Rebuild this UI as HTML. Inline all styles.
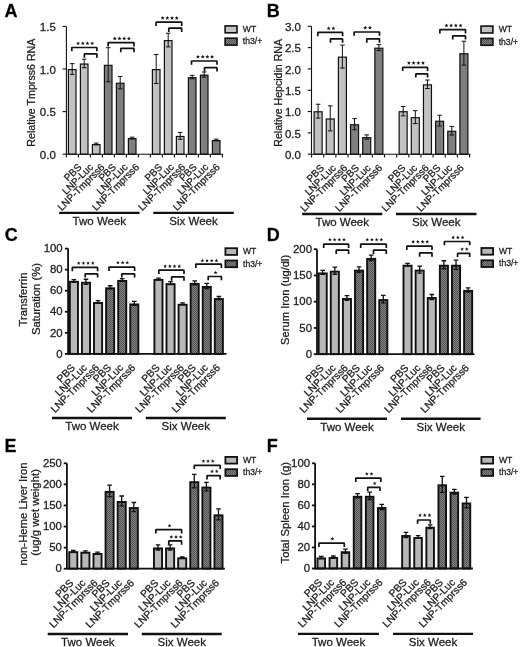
<!DOCTYPE html>
<html><head><meta charset="utf-8"><style>
html,body{margin:0;padding:0;background:#fff;}
svg{display:block;transform:translateZ(0);will-change:transform;}
text{font-family:"Liberation Sans",sans-serif;stroke:#1e1e1e;stroke-width:0.28px;}
</style></head><body>
<svg width="520" height="647" viewBox="0 0 520 647">
<defs>
<pattern id="chk" x="0" y="0" width="2" height="2" patternUnits="userSpaceOnUse">
<rect width="2" height="2" fill="#828282"/><rect width="1" height="1" fill="#535353"/><rect x="1" y="1" width="1" height="1" fill="#535353"/>
</pattern>
</defs>
<rect width="520" height="647" fill="#fff"/>
<text x="4.6" y="17.4" font-size="18" font-weight="bold" fill="#000">A</text>
<line x1="62.60000000000001" y1="154.20" x2="66.4" y2="154.20" stroke="#111" stroke-width="1.1"/>
<text x="55.80" y="158.90" font-size="11.5" text-anchor="end" fill="#1e1e1e">0.0</text>
<line x1="62.60000000000001" y1="111.60" x2="66.4" y2="111.60" stroke="#111" stroke-width="1.1"/>
<text x="55.80" y="116.30" font-size="11.5" text-anchor="end" fill="#1e1e1e">0.5</text>
<line x1="62.60000000000001" y1="69.00" x2="66.4" y2="69.00" stroke="#111" stroke-width="1.1"/>
<text x="55.80" y="73.70" font-size="11.5" text-anchor="end" fill="#1e1e1e">1.0</text>
<line x1="62.60000000000001" y1="26.40" x2="66.4" y2="26.40" stroke="#111" stroke-width="1.1"/>
<text x="55.80" y="31.10" font-size="11.5" text-anchor="end" fill="#1e1e1e">1.5</text>
<text transform="translate(35.0,92.65) rotate(-90)" font-size="10.65" text-anchor="middle" fill="#1e1e1e">Relative Tmprss6 RNA</text>
<rect x="68.40" y="69.60" width="7.60" height="84.60" fill="#c2c2c2" stroke="#111" stroke-width="1.2"/>
<rect x="80.40" y="64.06" width="7.60" height="90.14" fill="#c2c2c2" stroke="#111" stroke-width="1.2"/>
<rect x="92.40" y="144.58" width="7.60" height="9.62" fill="#c2c2c2" stroke="#111" stroke-width="1.2"/>
<rect x="104.40" y="65.34" width="7.60" height="88.86" fill="#7f7f7f" stroke="#111" stroke-width="1.2"/>
<rect x="116.40" y="83.23" width="7.60" height="70.97" fill="#7f7f7f" stroke="#111" stroke-width="1.2"/>
<rect x="128.40" y="138.61" width="7.60" height="15.59" fill="#7f7f7f" stroke="#111" stroke-width="1.2"/>
<rect x="152.40" y="69.60" width="7.60" height="84.60" fill="#c2c2c2" stroke="#111" stroke-width="1.2"/>
<rect x="164.40" y="40.63" width="7.60" height="113.57" fill="#c2c2c2" stroke="#111" stroke-width="1.2"/>
<rect x="176.40" y="136.48" width="7.60" height="17.72" fill="#c2c2c2" stroke="#111" stroke-width="1.2"/>
<rect x="188.40" y="77.69" width="7.60" height="76.51" fill="#7f7f7f" stroke="#111" stroke-width="1.2"/>
<rect x="200.40" y="75.14" width="7.60" height="79.06" fill="#7f7f7f" stroke="#111" stroke-width="1.2"/>
<rect x="212.40" y="140.57" width="7.60" height="13.63" fill="#7f7f7f" stroke="#111" stroke-width="1.2"/>
<path d="M72.20,63.63V74.37M69.90,63.63H74.50M69.90,74.37H74.50" stroke="#111" stroke-width="1.0" fill="none"/>
<path d="M84.20,59.20V67.72M81.90,59.20H86.50M81.90,67.72H86.50" stroke="#111" stroke-width="1.0" fill="none"/>
<path d="M96.20,143.12V144.83M93.90,143.12H98.50M93.90,144.83H98.50" stroke="#111" stroke-width="1.0" fill="none"/>
<path d="M108.20,47.70V81.78M105.90,47.70H110.50M105.90,81.78H110.50" stroke="#111" stroke-width="1.0" fill="none"/>
<path d="M120.20,76.50V88.77M117.90,76.50H122.50M117.90,88.77H122.50" stroke="#111" stroke-width="1.0" fill="none"/>
<path d="M132.20,137.16V138.86M129.90,137.16H134.50M129.90,138.86H134.50" stroke="#111" stroke-width="1.0" fill="none"/>
<path d="M156.20,54.52V83.48M153.90,54.52H158.50M153.90,83.48H158.50" stroke="#111" stroke-width="1.0" fill="none"/>
<path d="M168.20,33.22V46.85M165.90,33.22H170.50M165.90,46.85H170.50" stroke="#111" stroke-width="1.0" fill="none"/>
<path d="M180.20,132.47V139.29M177.90,132.47H182.50M177.90,139.29H182.50" stroke="#111" stroke-width="1.0" fill="none"/>
<path d="M192.20,75.39V78.80M189.90,75.39H194.50M189.90,78.80H194.50" stroke="#111" stroke-width="1.0" fill="none"/>
<path d="M204.20,71.98V77.09M201.90,71.98H206.50M201.90,77.09H206.50" stroke="#111" stroke-width="1.0" fill="none"/>
<path d="M216.20,139.12V140.82M213.90,139.12H218.50M213.90,140.82H218.50" stroke="#111" stroke-width="1.0" fill="none"/>
<line x1="66.4" y1="154.2" x2="223" y2="154.2" stroke="#111" stroke-width="1.1"/>
<line x1="66.4" y1="154.75" x2="66.4" y2="26.4" stroke="#111" stroke-width="1.1"/>
<line x1="66.40" y1="154.2" x2="66.40" y2="157.39999999999998" stroke="#111" stroke-width="1.1"/>
<line x1="78.40" y1="154.2" x2="78.40" y2="157.39999999999998" stroke="#111" stroke-width="1.1"/>
<line x1="90.40" y1="154.2" x2="90.40" y2="157.39999999999998" stroke="#111" stroke-width="1.1"/>
<line x1="102.40" y1="154.2" x2="102.40" y2="157.39999999999998" stroke="#111" stroke-width="1.1"/>
<line x1="114.40" y1="154.2" x2="114.40" y2="157.39999999999998" stroke="#111" stroke-width="1.1"/>
<line x1="126.40" y1="154.2" x2="126.40" y2="157.39999999999998" stroke="#111" stroke-width="1.1"/>
<line x1="138.40" y1="154.2" x2="138.40" y2="157.39999999999998" stroke="#111" stroke-width="1.1"/>
<line x1="150.40" y1="154.2" x2="150.40" y2="157.39999999999998" stroke="#111" stroke-width="1.1"/>
<line x1="162.40" y1="154.2" x2="162.40" y2="157.39999999999998" stroke="#111" stroke-width="1.1"/>
<line x1="174.40" y1="154.2" x2="174.40" y2="157.39999999999998" stroke="#111" stroke-width="1.1"/>
<line x1="186.40" y1="154.2" x2="186.40" y2="157.39999999999998" stroke="#111" stroke-width="1.1"/>
<line x1="198.40" y1="154.2" x2="198.40" y2="157.39999999999998" stroke="#111" stroke-width="1.1"/>
<line x1="210.40" y1="154.2" x2="210.40" y2="157.39999999999998" stroke="#111" stroke-width="1.1"/>
<line x1="222.40" y1="154.2" x2="222.40" y2="157.39999999999998" stroke="#111" stroke-width="1.1"/>
<text transform="translate(82.20,167.70) rotate(-45)" font-size="10" text-anchor="end" fill="#1e1e1e">PBS</text>
<text transform="translate(93.73,167.70) rotate(-45)" font-size="10" text-anchor="end" fill="#1e1e1e">LNP-Luc</text>
<text transform="translate(105.26,167.70) rotate(-45)" font-size="10" text-anchor="end" fill="#1e1e1e">LNP-Tmprss6</text>
<text transform="translate(116.79,167.70) rotate(-45)" font-size="10" text-anchor="end" fill="#1e1e1e">PBS</text>
<text transform="translate(128.32,167.70) rotate(-45)" font-size="10" text-anchor="end" fill="#1e1e1e">LNP-Luc</text>
<text transform="translate(139.85,167.70) rotate(-45)" font-size="10" text-anchor="end" fill="#1e1e1e">LNP-Tmprss6</text>
<text transform="translate(162.91,167.70) rotate(-45)" font-size="10" text-anchor="end" fill="#1e1e1e">PBS</text>
<text transform="translate(174.44,167.70) rotate(-45)" font-size="10" text-anchor="end" fill="#1e1e1e">LNP-Luc</text>
<text transform="translate(185.97,167.70) rotate(-45)" font-size="10" text-anchor="end" fill="#1e1e1e">LNP-Tmprss6</text>
<text transform="translate(197.50,167.70) rotate(-45)" font-size="10" text-anchor="end" fill="#1e1e1e">PBS</text>
<text transform="translate(209.03,167.70) rotate(-45)" font-size="10" text-anchor="end" fill="#1e1e1e">LNP-Luc</text>
<text transform="translate(220.56,167.70) rotate(-45)" font-size="10" text-anchor="end" fill="#1e1e1e">LNP-Tmprss6</text>
<path d="M71.80,51.30V48.00Q71.80,47.50 72.30,47.50H96.40Q96.90,47.50 96.90,48.00V51.30" stroke="#111" stroke-width="1.7" fill="none"/>
<polygon points="78.10,41.30 78.66,42.64 80.10,42.75 79.00,43.69 79.33,45.10 78.10,44.34 76.87,45.10 77.20,43.69 76.10,42.75 77.54,42.64" fill="#151515"/>
<polygon points="82.80,41.30 83.36,42.64 84.80,42.75 83.70,43.69 84.03,45.10 82.80,44.34 81.57,45.10 81.90,43.69 80.80,42.75 82.24,42.64" fill="#151515"/>
<polygon points="87.50,41.30 88.06,42.64 89.50,42.75 88.40,43.69 88.73,45.10 87.50,44.34 86.27,45.10 86.60,43.69 85.50,42.75 86.94,42.64" fill="#151515"/>
<polygon points="92.20,41.30 92.76,42.64 94.20,42.75 93.10,43.69 93.43,45.10 92.20,44.34 90.97,45.10 91.30,43.69 90.20,42.75 91.64,42.64" fill="#151515"/>
<path d="M84.40,57.70V54.40Q84.40,53.90 84.90,53.90H96.40Q96.90,53.90 96.90,54.40V57.70" stroke="#111" stroke-width="1.7" fill="none"/>
<path d="M108.10,46.50V43.20Q108.10,42.70 108.60,42.70H133.50Q134.00,42.70 134.00,43.20V46.50" stroke="#111" stroke-width="1.7" fill="none"/>
<polygon points="114.80,36.50 115.36,37.84 116.80,37.95 115.70,38.89 116.03,40.30 114.80,39.55 113.57,40.30 113.90,38.89 112.80,37.95 114.24,37.84" fill="#151515"/>
<polygon points="119.50,36.50 120.06,37.84 121.50,37.95 120.40,38.89 120.73,40.30 119.50,39.55 118.27,40.30 118.60,38.89 117.50,37.95 118.94,37.84" fill="#151515"/>
<polygon points="124.20,36.50 124.76,37.84 126.20,37.95 125.10,38.89 125.43,40.30 124.20,39.55 122.97,40.30 123.30,38.89 122.20,37.95 123.64,37.84" fill="#151515"/>
<polygon points="128.90,36.50 129.46,37.84 130.90,37.95 129.80,38.89 130.13,40.30 128.90,39.55 127.67,40.30 128.00,38.89 126.90,37.95 128.34,37.84" fill="#151515"/>
<path d="M120.80,52.20V48.90Q120.80,48.40 121.30,48.40H133.50Q134.00,48.40 134.00,48.90V52.20" stroke="#111" stroke-width="1.7" fill="none"/>
<path d="M156.10,25.90V22.60Q156.10,22.10 156.60,22.10H181.20Q181.70,22.10 181.70,22.60V25.90" stroke="#111" stroke-width="1.7" fill="none"/>
<polygon points="162.65,15.90 163.21,17.24 164.65,17.35 163.55,18.29 163.88,19.70 162.65,18.95 161.42,19.70 161.75,18.29 160.65,17.35 162.09,17.24" fill="#151515"/>
<polygon points="167.35,15.90 167.91,17.24 169.35,17.35 168.25,18.29 168.58,19.70 167.35,18.95 166.12,19.70 166.45,18.29 165.35,17.35 166.79,17.24" fill="#151515"/>
<polygon points="172.05,15.90 172.61,17.24 174.05,17.35 172.95,18.29 173.28,19.70 172.05,18.95 170.82,19.70 171.15,18.29 170.05,17.35 171.49,17.24" fill="#151515"/>
<polygon points="176.75,15.90 177.31,17.24 178.75,17.35 177.65,18.29 177.98,19.70 176.75,18.95 175.52,19.70 175.85,18.29 174.75,17.35 176.19,17.24" fill="#151515"/>
<path d="M168.80,32.00V28.70Q168.80,28.20 169.30,28.20H181.20Q181.70,28.20 181.70,28.70V32.00" stroke="#111" stroke-width="1.7" fill="none"/>
<path d="M191.50,64.80V61.50Q191.50,61.00 192.00,61.00H216.50Q217.00,61.00 217.00,61.50V64.80" stroke="#111" stroke-width="1.7" fill="none"/>
<polygon points="198.00,54.70 198.56,56.04 200.00,56.15 198.90,57.09 199.23,58.50 198.00,57.74 196.77,58.50 197.10,57.09 196.00,56.15 197.44,56.04" fill="#151515"/>
<polygon points="202.70,54.70 203.26,56.04 204.70,56.15 203.60,57.09 203.93,58.50 202.70,57.74 201.47,58.50 201.80,57.09 200.70,56.15 202.14,56.04" fill="#151515"/>
<polygon points="207.40,54.70 207.96,56.04 209.40,56.15 208.30,57.09 208.63,58.50 207.40,57.74 206.17,58.50 206.50,57.09 205.40,56.15 206.84,56.04" fill="#151515"/>
<polygon points="212.10,54.70 212.66,56.04 214.10,56.15 213.00,57.09 213.33,58.50 212.10,57.74 210.87,58.50 211.20,57.09 210.10,56.15 211.54,56.04" fill="#151515"/>
<path d="M204.50,71.50V68.20Q204.50,67.70 205.00,67.70H216.50Q217.00,67.70 217.00,68.20V71.50" stroke="#111" stroke-width="1.7" fill="none"/>
<line x1="59.2" y1="212.9" x2="139.5" y2="212.9" stroke="#111" stroke-width="2.4"/>
<text x="99.35" y="224.70" font-size="11.5" text-anchor="middle" fill="#1e1e1e">Two Week</text>
<line x1="153.3" y1="212.9" x2="233.8" y2="212.9" stroke="#111" stroke-width="2.4"/>
<text x="193.55" y="224.70" font-size="11.5" text-anchor="middle" fill="#1e1e1e">Six Week</text>
<rect x="225.10000000000002" y="25.900000000000002" width="11.9" height="6.9" fill="#c2c2c2" stroke="#111" stroke-width="1.6"/>
<rect x="225.10000000000002" y="38.2" width="11.9" height="6.9" fill="url(#chk)" stroke="#111" stroke-width="1.6"/>
<text x="242.8" y="32.1" font-size="8.6" fill="#1e1e1e">WT</text>
<text x="242.8" y="44.400000000000006" font-size="8.6" fill="#1e1e1e">th3/+</text>
<text x="266.8" y="17.4" font-size="18" font-weight="bold" fill="#000">B</text>
<line x1="307.7" y1="154.20" x2="311.5" y2="154.20" stroke="#111" stroke-width="1.1"/>
<text x="300.90" y="158.90" font-size="11.5" text-anchor="end" fill="#1e1e1e">0.0</text>
<line x1="307.7" y1="132.88" x2="311.5" y2="132.88" stroke="#111" stroke-width="1.1"/>
<text x="300.90" y="137.58" font-size="11.5" text-anchor="end" fill="#1e1e1e">0.5</text>
<line x1="307.7" y1="111.57" x2="311.5" y2="111.57" stroke="#111" stroke-width="1.1"/>
<text x="300.90" y="116.27" font-size="11.5" text-anchor="end" fill="#1e1e1e">1.0</text>
<line x1="307.7" y1="90.25" x2="311.5" y2="90.25" stroke="#111" stroke-width="1.1"/>
<text x="300.90" y="94.95" font-size="11.5" text-anchor="end" fill="#1e1e1e">1.5</text>
<line x1="307.7" y1="68.93" x2="311.5" y2="68.93" stroke="#111" stroke-width="1.1"/>
<text x="300.90" y="73.63" font-size="11.5" text-anchor="end" fill="#1e1e1e">2.0</text>
<line x1="307.7" y1="47.62" x2="311.5" y2="47.62" stroke="#111" stroke-width="1.1"/>
<text x="300.90" y="52.32" font-size="11.5" text-anchor="end" fill="#1e1e1e">2.5</text>
<line x1="307.7" y1="26.30" x2="311.5" y2="26.30" stroke="#111" stroke-width="1.1"/>
<text x="300.90" y="31.00" font-size="11.5" text-anchor="end" fill="#1e1e1e">3.0</text>
<text transform="translate(281.5,92.85) rotate(-90)" font-size="10.6" text-anchor="middle" fill="#1e1e1e">Relative Hepcidin RNA</text>
<rect x="314.10" y="111.78" width="8.00" height="42.42" fill="#c2c2c2" stroke="#111" stroke-width="1.2"/>
<rect x="326.25" y="118.99" width="8.00" height="35.21" fill="#c2c2c2" stroke="#111" stroke-width="1.2"/>
<rect x="338.40" y="57.17" width="8.00" height="97.03" fill="#c2c2c2" stroke="#111" stroke-width="1.2"/>
<rect x="350.55" y="124.79" width="8.00" height="29.41" fill="#7f7f7f" stroke="#111" stroke-width="1.2"/>
<rect x="362.70" y="137.62" width="8.00" height="16.58" fill="#7f7f7f" stroke="#111" stroke-width="1.2"/>
<rect x="374.85" y="48.22" width="8.00" height="105.98" fill="#7f7f7f" stroke="#111" stroke-width="1.2"/>
<rect x="399.15" y="111.74" width="8.00" height="42.46" fill="#c2c2c2" stroke="#111" stroke-width="1.2"/>
<rect x="411.30" y="117.71" width="8.00" height="36.49" fill="#c2c2c2" stroke="#111" stroke-width="1.2"/>
<rect x="423.45" y="84.88" width="8.00" height="69.32" fill="#c2c2c2" stroke="#111" stroke-width="1.2"/>
<rect x="435.60" y="121.25" width="8.00" height="32.95" fill="#7f7f7f" stroke="#111" stroke-width="1.2"/>
<rect x="447.75" y="131.31" width="8.00" height="22.89" fill="#7f7f7f" stroke="#111" stroke-width="1.2"/>
<rect x="459.90" y="53.76" width="8.00" height="100.44" fill="#7f7f7f" stroke="#111" stroke-width="1.2"/>
<path d="M318.10,104.23V118.13M315.80,104.23H320.40M315.80,118.13H320.40" stroke="#111" stroke-width="1.0" fill="none"/>
<path d="M330.25,105.85V130.92M327.95,105.85H332.55M327.95,130.92H332.55" stroke="#111" stroke-width="1.0" fill="none"/>
<path d="M342.40,45.06V68.08M340.10,45.06H344.70M340.10,68.08H344.70" stroke="#111" stroke-width="1.0" fill="none"/>
<path d="M354.55,118.64V129.73M352.25,118.64H356.85M352.25,129.73H356.85" stroke="#111" stroke-width="1.0" fill="none"/>
<path d="M366.70,134.89V139.15M364.40,134.89H369.00M364.40,139.15H369.00" stroke="#111" stroke-width="1.0" fill="none"/>
<path d="M378.85,44.63V50.60M376.55,44.63H381.15M376.55,50.60H381.15" stroke="#111" stroke-width="1.0" fill="none"/>
<path d="M403.15,106.45V115.83M400.85,106.45H405.45M400.85,115.83H405.45" stroke="#111" stroke-width="1.0" fill="none"/>
<path d="M415.30,110.63V123.59M413.00,110.63H417.60M413.00,123.59H417.60" stroke="#111" stroke-width="1.0" fill="none"/>
<path d="M427.45,80.02V88.54M425.15,80.02H429.75M425.15,88.54H429.75" stroke="#111" stroke-width="1.0" fill="none"/>
<path d="M439.60,115.23V126.06M437.30,115.23H441.90M437.30,126.06H441.90" stroke="#111" stroke-width="1.0" fill="none"/>
<path d="M451.75,126.45V134.97M449.45,126.45H454.05M449.45,134.97H454.05" stroke="#111" stroke-width="1.0" fill="none"/>
<path d="M463.90,41.22V65.10M461.60,41.22H466.20M461.60,65.10H466.20" stroke="#111" stroke-width="1.0" fill="none"/>
<line x1="311.5" y1="154.2" x2="470.5" y2="154.2" stroke="#111" stroke-width="1.1"/>
<line x1="311.5" y1="154.75" x2="311.5" y2="26.3" stroke="#111" stroke-width="1.1"/>
<line x1="311.60" y1="154.2" x2="311.60" y2="157.39999999999998" stroke="#111" stroke-width="1.1"/>
<line x1="323.75" y1="154.2" x2="323.75" y2="157.39999999999998" stroke="#111" stroke-width="1.1"/>
<line x1="335.90" y1="154.2" x2="335.90" y2="157.39999999999998" stroke="#111" stroke-width="1.1"/>
<line x1="348.05" y1="154.2" x2="348.05" y2="157.39999999999998" stroke="#111" stroke-width="1.1"/>
<line x1="360.20" y1="154.2" x2="360.20" y2="157.39999999999998" stroke="#111" stroke-width="1.1"/>
<line x1="372.35" y1="154.2" x2="372.35" y2="157.39999999999998" stroke="#111" stroke-width="1.1"/>
<line x1="384.50" y1="154.2" x2="384.50" y2="157.39999999999998" stroke="#111" stroke-width="1.1"/>
<line x1="396.65" y1="154.2" x2="396.65" y2="157.39999999999998" stroke="#111" stroke-width="1.1"/>
<line x1="408.80" y1="154.2" x2="408.80" y2="157.39999999999998" stroke="#111" stroke-width="1.1"/>
<line x1="420.95" y1="154.2" x2="420.95" y2="157.39999999999998" stroke="#111" stroke-width="1.1"/>
<line x1="433.10" y1="154.2" x2="433.10" y2="157.39999999999998" stroke="#111" stroke-width="1.1"/>
<line x1="445.25" y1="154.2" x2="445.25" y2="157.39999999999998" stroke="#111" stroke-width="1.1"/>
<line x1="457.40" y1="154.2" x2="457.40" y2="157.39999999999998" stroke="#111" stroke-width="1.1"/>
<line x1="469.55" y1="154.2" x2="469.55" y2="157.39999999999998" stroke="#111" stroke-width="1.1"/>
<text transform="translate(324.80,168.60) rotate(-45)" font-size="10" text-anchor="end" fill="#1e1e1e">PBS</text>
<text transform="translate(336.43,168.60) rotate(-45)" font-size="10" text-anchor="end" fill="#1e1e1e">LNP-Luc</text>
<text transform="translate(348.06,168.60) rotate(-45)" font-size="10" text-anchor="end" fill="#1e1e1e">LNP-Tmprss6</text>
<text transform="translate(359.69,168.60) rotate(-45)" font-size="10" text-anchor="end" fill="#1e1e1e">PBS</text>
<text transform="translate(371.32,168.60) rotate(-45)" font-size="10" text-anchor="end" fill="#1e1e1e">LNP-Luc</text>
<text transform="translate(382.95,168.60) rotate(-45)" font-size="10" text-anchor="end" fill="#1e1e1e">LNP-Tmprss6</text>
<text transform="translate(406.21,168.60) rotate(-45)" font-size="10" text-anchor="end" fill="#1e1e1e">PBS</text>
<text transform="translate(417.84,168.60) rotate(-45)" font-size="10" text-anchor="end" fill="#1e1e1e">LNP-Luc</text>
<text transform="translate(429.47,168.60) rotate(-45)" font-size="10" text-anchor="end" fill="#1e1e1e">LNP-Tmprss6</text>
<text transform="translate(441.10,168.60) rotate(-45)" font-size="10" text-anchor="end" fill="#1e1e1e">PBS</text>
<text transform="translate(452.73,168.60) rotate(-45)" font-size="10" text-anchor="end" fill="#1e1e1e">LNP-Luc</text>
<text transform="translate(464.36,168.60) rotate(-45)" font-size="10" text-anchor="end" fill="#1e1e1e">LNP-Tmprss6</text>
<path d="M317.80,36.20V32.90Q317.80,32.40 318.30,32.40H342.10Q342.60,32.40 342.60,32.90V36.20" stroke="#111" stroke-width="1.7" fill="none"/>
<polygon points="328.65,26.30 329.21,27.64 330.65,27.75 329.55,28.69 329.88,30.10 328.65,29.34 327.42,30.10 327.75,28.69 326.65,27.75 328.09,27.64" fill="#151515"/>
<polygon points="333.35,26.30 333.91,27.64 335.35,27.75 334.25,28.69 334.58,30.10 333.35,29.34 332.12,30.10 332.45,28.69 331.35,27.75 332.79,27.64" fill="#151515"/>
<path d="M330.50,42.70V39.40Q330.50,38.90 331.00,38.90H342.10Q342.60,38.90 342.60,39.40V42.70" stroke="#111" stroke-width="1.7" fill="none"/>
<path d="M354.10,35.80V32.50Q354.10,32.00 354.60,32.00H379.00Q379.50,32.00 379.50,32.50V35.80" stroke="#111" stroke-width="1.7" fill="none"/>
<polygon points="365.25,25.60 365.81,26.94 367.25,27.05 366.15,27.99 366.48,29.40 365.25,28.64 364.02,29.40 364.35,27.99 363.25,27.05 364.69,26.94" fill="#151515"/>
<polygon points="369.95,25.60 370.51,26.94 371.95,27.05 370.85,27.99 371.18,29.40 369.95,28.64 368.72,29.40 369.05,27.99 367.95,27.05 369.39,26.94" fill="#151515"/>
<path d="M366.80,42.70V39.40Q366.80,38.90 367.30,38.90H379.00Q379.50,38.90 379.50,39.40V42.70" stroke="#111" stroke-width="1.7" fill="none"/>
<path d="M402.70,71.10V67.80Q402.70,67.30 403.20,67.30H427.10Q427.60,67.30 427.60,67.80V71.10" stroke="#111" stroke-width="1.7" fill="none"/>
<polygon points="408.90,60.90 409.46,62.24 410.90,62.35 409.80,63.29 410.13,64.70 408.90,63.95 407.67,64.70 408.00,63.29 406.90,62.35 408.34,62.24" fill="#151515"/>
<polygon points="413.60,60.90 414.16,62.24 415.60,62.35 414.50,63.29 414.83,64.70 413.60,63.95 412.37,64.70 412.70,63.29 411.60,62.35 413.04,62.24" fill="#151515"/>
<polygon points="418.30,60.90 418.86,62.24 420.30,62.35 419.20,63.29 419.53,64.70 418.30,63.95 417.07,64.70 417.40,63.29 416.30,62.35 417.74,62.24" fill="#151515"/>
<polygon points="423.00,60.90 423.56,62.24 425.00,62.35 423.90,63.29 424.23,64.70 423.00,63.95 421.77,64.70 422.10,63.29 421.00,62.35 422.44,62.24" fill="#151515"/>
<path d="M415.80,77.60V74.30Q415.80,73.80 416.30,73.80H427.10Q427.60,73.80 427.60,74.30V77.60" stroke="#111" stroke-width="1.7" fill="none"/>
<path d="M439.90,33.40V30.10Q439.90,29.60 440.40,29.60H465.00Q465.50,29.60 465.50,30.10V33.40" stroke="#111" stroke-width="1.7" fill="none"/>
<polygon points="446.45,23.40 447.01,24.74 448.45,24.85 447.35,25.79 447.68,27.20 446.45,26.45 445.22,27.20 445.55,25.79 444.45,24.85 445.89,24.74" fill="#151515"/>
<polygon points="451.15,23.40 451.71,24.74 453.15,24.85 452.05,25.79 452.38,27.20 451.15,26.45 449.92,27.20 450.25,25.79 449.15,24.85 450.59,24.74" fill="#151515"/>
<polygon points="455.85,23.40 456.41,24.74 457.85,24.85 456.75,25.79 457.08,27.20 455.85,26.45 454.62,27.20 454.95,25.79 453.85,24.85 455.29,24.74" fill="#151515"/>
<polygon points="460.55,23.40 461.11,24.74 462.55,24.85 461.45,25.79 461.78,27.20 460.55,26.45 459.32,27.20 459.65,25.79 458.55,24.85 459.99,24.74" fill="#151515"/>
<path d="M452.70,39.60V36.30Q452.70,35.80 453.20,35.80H465.00Q465.50,35.80 465.50,36.30V39.60" stroke="#111" stroke-width="1.7" fill="none"/>
<line x1="302.2" y1="214.0" x2="382.3" y2="214.0" stroke="#111" stroke-width="2.4"/>
<text x="342.25" y="225.80" font-size="11.5" text-anchor="middle" fill="#1e1e1e">Two Week</text>
<line x1="396.0" y1="214.0" x2="476.5" y2="214.0" stroke="#111" stroke-width="2.4"/>
<text x="436.25" y="225.80" font-size="11.5" text-anchor="middle" fill="#1e1e1e">Six Week</text>
<rect x="481.0" y="26.1" width="11.9" height="6.9" fill="#c2c2c2" stroke="#111" stroke-width="1.6"/>
<rect x="481.0" y="38.4" width="11.9" height="6.9" fill="url(#chk)" stroke="#111" stroke-width="1.6"/>
<text x="498.7" y="32.3" font-size="8.6" fill="#1e1e1e">WT</text>
<text x="498.7" y="44.6" font-size="8.6" fill="#1e1e1e">th3/+</text>
<text x="4.8" y="240.9" font-size="18" font-weight="bold" fill="#000">C</text>
<line x1="64.89999999999999" y1="353.90" x2="68.1" y2="353.90" stroke="#111" stroke-width="1.8"/>
<text x="62.70" y="357.60" font-size="11.4" text-anchor="end" fill="#1e1e1e">0</text>
<line x1="64.89999999999999" y1="332.84" x2="68.1" y2="332.84" stroke="#111" stroke-width="1.8"/>
<text x="62.70" y="336.54" font-size="11.4" text-anchor="end" fill="#1e1e1e">20</text>
<line x1="64.89999999999999" y1="311.78" x2="68.1" y2="311.78" stroke="#111" stroke-width="1.8"/>
<text x="62.70" y="315.48" font-size="11.4" text-anchor="end" fill="#1e1e1e">40</text>
<line x1="64.89999999999999" y1="290.72" x2="68.1" y2="290.72" stroke="#111" stroke-width="1.8"/>
<text x="62.70" y="294.42" font-size="11.4" text-anchor="end" fill="#1e1e1e">60</text>
<line x1="64.89999999999999" y1="269.66" x2="68.1" y2="269.66" stroke="#111" stroke-width="1.8"/>
<text x="62.70" y="273.36" font-size="11.4" text-anchor="end" fill="#1e1e1e">80</text>
<line x1="64.89999999999999" y1="248.60" x2="68.1" y2="248.60" stroke="#111" stroke-width="1.8"/>
<text x="62.70" y="252.30" font-size="11.4" text-anchor="end" fill="#1e1e1e">100</text>
<text transform="translate(27.4,299.4) rotate(-90)" font-size="11.25" text-anchor="middle" fill="#1e1e1e">Transferrin</text>
<text transform="translate(39.8,299.0) rotate(-90)" font-size="11.3" text-anchor="middle" fill="#1e1e1e">Saturation (%)</text>
<rect x="69.85" y="281.77" width="8.10" height="72.13" fill="#b8b8b8" stroke="#111" stroke-width="1.9"/>
<rect x="81.93" y="282.72" width="8.10" height="71.18" fill="#b8b8b8" stroke="#111" stroke-width="1.9"/>
<rect x="94.01" y="302.94" width="8.10" height="50.96" fill="#b8b8b8" stroke="#111" stroke-width="1.9"/>
<rect x="106.09" y="288.30" width="8.10" height="65.60" fill="url(#chk)" stroke="#111" stroke-width="1.9"/>
<rect x="118.17" y="280.93" width="8.10" height="72.97" fill="url(#chk)" stroke="#111" stroke-width="1.9"/>
<rect x="130.25" y="304.41" width="8.10" height="49.49" fill="url(#chk)" stroke="#111" stroke-width="1.9"/>
<rect x="154.41" y="279.88" width="8.10" height="74.02" fill="#b8b8b8" stroke="#111" stroke-width="1.9"/>
<rect x="166.49" y="284.09" width="8.10" height="69.81" fill="#b8b8b8" stroke="#111" stroke-width="1.9"/>
<rect x="178.57" y="304.73" width="8.10" height="49.17" fill="#b8b8b8" stroke="#111" stroke-width="1.9"/>
<rect x="190.65" y="283.88" width="8.10" height="70.02" fill="url(#chk)" stroke="#111" stroke-width="1.9"/>
<rect x="202.73" y="286.93" width="8.10" height="66.97" fill="url(#chk)" stroke="#111" stroke-width="1.9"/>
<rect x="214.81" y="299.04" width="8.10" height="54.86" fill="url(#chk)" stroke="#111" stroke-width="1.9"/>
<path d="M73.90,279.56V282.09M71.60,279.56H76.20M71.60,282.09H76.20" stroke="#111" stroke-width="1.3" fill="none"/>
<path d="M85.98,279.24V284.30M83.68,279.24H88.28M83.68,284.30H88.28" stroke="#111" stroke-width="1.3" fill="none"/>
<path d="M98.06,300.72V303.25M95.76,300.72H100.36M95.76,303.25H100.36" stroke="#111" stroke-width="1.3" fill="none"/>
<path d="M110.14,285.77V288.93M107.84,285.77H112.44M107.84,288.93H112.44" stroke="#111" stroke-width="1.3" fill="none"/>
<path d="M122.22,278.72V281.24M119.92,278.72H124.52M119.92,281.24H124.52" stroke="#111" stroke-width="1.3" fill="none"/>
<path d="M134.30,301.46V305.46M132.00,301.46H136.60M132.00,305.46H136.60" stroke="#111" stroke-width="1.3" fill="none"/>
<path d="M158.46,278.08V279.77M156.16,278.08H160.76M156.16,279.77H160.76" stroke="#111" stroke-width="1.3" fill="none"/>
<path d="M170.54,281.56V284.72M168.24,281.56H172.84M168.24,284.72H172.84" stroke="#111" stroke-width="1.3" fill="none"/>
<path d="M182.62,302.93V304.62M180.32,302.93H184.92M180.32,304.62H184.92" stroke="#111" stroke-width="1.3" fill="none"/>
<path d="M194.70,280.93V284.93M192.40,280.93H197.00M192.40,284.93H197.00" stroke="#111" stroke-width="1.3" fill="none"/>
<path d="M206.78,283.45V288.51M204.48,283.45H209.08M204.48,288.51H209.08" stroke="#111" stroke-width="1.3" fill="none"/>
<path d="M218.86,296.51V299.67M216.56,296.51H221.16M216.56,299.67H221.16" stroke="#111" stroke-width="1.3" fill="none"/>
<line x1="68.1" y1="353.9" x2="226.5" y2="353.9" stroke="#111" stroke-width="1.8"/>
<line x1="68.1" y1="354.79999999999995" x2="68.1" y2="248.6" stroke="#111" stroke-width="1.8"/>
<text transform="translate(75.60,368.40) rotate(-45)" font-size="10.3" text-anchor="end" fill="#1e1e1e">PBS</text>
<text transform="translate(87.70,368.40) rotate(-45)" font-size="10.3" text-anchor="end" fill="#1e1e1e">LNP-Luc</text>
<text transform="translate(99.80,368.40) rotate(-45)" font-size="10.3" text-anchor="end" fill="#1e1e1e">LNP-Tmprss6</text>
<text transform="translate(111.90,368.40) rotate(-45)" font-size="10.3" text-anchor="end" fill="#1e1e1e">PBS</text>
<text transform="translate(124.00,368.40) rotate(-45)" font-size="10.3" text-anchor="end" fill="#1e1e1e">LNP-Luc</text>
<text transform="translate(136.10,368.40) rotate(-45)" font-size="10.3" text-anchor="end" fill="#1e1e1e">LNP-Tmprss6</text>
<text transform="translate(160.30,368.40) rotate(-45)" font-size="10.3" text-anchor="end" fill="#1e1e1e">PBS</text>
<text transform="translate(172.40,368.40) rotate(-45)" font-size="10.3" text-anchor="end" fill="#1e1e1e">LNP-Luc</text>
<text transform="translate(184.50,368.40) rotate(-45)" font-size="10.3" text-anchor="end" fill="#1e1e1e">LNP-Tmprss6</text>
<text transform="translate(196.60,368.40) rotate(-45)" font-size="10.3" text-anchor="end" fill="#1e1e1e">PBS</text>
<text transform="translate(208.70,368.40) rotate(-45)" font-size="10.3" text-anchor="end" fill="#1e1e1e">LNP-Luc</text>
<text transform="translate(220.80,368.40) rotate(-45)" font-size="10.3" text-anchor="end" fill="#1e1e1e">LNP-Tmprss6</text>
<path d="M72.30,271.20V267.90Q72.30,267.40 72.80,267.40H97.10Q97.60,267.40 97.60,267.90V271.20" stroke="#111" stroke-width="1.7" fill="none"/>
<polygon points="78.70,261.15 79.22,262.39 80.55,262.50 79.53,263.37 79.85,264.68 78.70,263.98 77.55,264.68 77.87,263.37 76.85,262.50 78.18,262.39" fill="#151515"/>
<polygon points="83.40,261.15 83.92,262.39 85.25,262.50 84.23,263.37 84.55,264.68 83.40,263.98 82.25,264.68 82.57,263.37 81.55,262.50 82.88,262.39" fill="#151515"/>
<polygon points="88.10,261.15 88.62,262.39 89.95,262.50 88.93,263.37 89.25,264.68 88.10,263.98 86.95,264.68 87.27,263.37 86.25,262.50 87.58,262.39" fill="#151515"/>
<polygon points="92.80,261.15 93.32,262.39 94.65,262.50 93.63,263.37 93.95,264.68 92.80,263.98 91.65,264.68 91.97,263.37 90.95,262.50 92.28,262.39" fill="#151515"/>
<path d="M85.20,277.60V274.30Q85.20,273.80 85.70,273.80H97.10Q97.60,273.80 97.60,274.30V277.60" stroke="#111" stroke-width="1.7" fill="none"/>
<path d="M109.00,270.90V267.60Q109.00,267.10 109.50,267.10H134.10Q134.60,267.10 134.60,267.60V270.90" stroke="#111" stroke-width="1.7" fill="none"/>
<polygon points="117.90,260.65 118.42,261.89 119.75,262.00 118.73,262.87 119.05,264.18 117.90,263.48 116.75,264.18 117.07,262.87 116.05,262.00 117.38,261.89" fill="#151515"/>
<polygon points="122.60,260.65 123.12,261.89 124.45,262.00 123.43,262.87 123.75,264.18 122.60,263.48 121.45,264.18 121.77,262.87 120.75,262.00 122.08,261.89" fill="#151515"/>
<polygon points="127.30,260.65 127.82,261.89 129.15,262.00 128.13,262.87 128.45,264.18 127.30,263.48 126.15,264.18 126.47,262.87 125.45,262.00 126.78,261.89" fill="#151515"/>
<path d="M121.80,277.60V274.30Q121.80,273.80 122.30,273.80H134.10Q134.60,273.80 134.60,274.30V277.60" stroke="#111" stroke-width="1.7" fill="none"/>
<path d="M158.80,274.00V270.70Q158.80,270.20 159.30,270.20H183.50Q184.00,270.20 184.00,270.70V274.00" stroke="#111" stroke-width="1.7" fill="none"/>
<polygon points="165.15,264.35 165.67,265.59 167.00,265.70 165.98,266.57 166.30,267.88 165.15,267.18 164.00,267.88 164.32,266.57 163.30,265.70 164.63,265.59" fill="#151515"/>
<polygon points="169.85,264.35 170.37,265.59 171.70,265.70 170.68,266.57 171.00,267.88 169.85,267.18 168.70,267.88 169.02,266.57 168.00,265.70 169.33,265.59" fill="#151515"/>
<polygon points="174.55,264.35 175.07,265.59 176.40,265.70 175.38,266.57 175.70,267.88 174.55,267.18 173.40,267.88 173.72,266.57 172.70,265.70 174.03,265.59" fill="#151515"/>
<polygon points="179.25,264.35 179.77,265.59 181.10,265.70 180.08,266.57 180.40,267.88 179.25,267.18 178.10,267.88 178.42,266.57 177.40,265.70 178.73,265.59" fill="#151515"/>
<path d="M171.60,280.70V277.40Q171.60,276.90 172.10,276.90H183.50Q184.00,276.90 184.00,277.40V280.70" stroke="#111" stroke-width="1.7" fill="none"/>
<path d="M195.80,267.90V264.60Q195.80,264.10 196.30,264.10H220.90Q221.40,264.10 221.40,264.60V267.90" stroke="#111" stroke-width="1.7" fill="none"/>
<polygon points="202.35,258.65 202.87,259.89 204.20,260.00 203.18,260.87 203.50,262.18 202.35,261.48 201.20,262.18 201.52,260.87 200.50,260.00 201.83,259.89" fill="#151515"/>
<polygon points="207.05,258.65 207.57,259.89 208.90,260.00 207.88,260.87 208.20,262.18 207.05,261.48 205.90,262.18 206.22,260.87 205.20,260.00 206.53,259.89" fill="#151515"/>
<polygon points="211.75,258.65 212.27,259.89 213.60,260.00 212.58,260.87 212.90,262.18 211.75,261.48 210.60,262.18 210.92,260.87 209.90,260.00 211.23,259.89" fill="#151515"/>
<polygon points="216.45,258.65 216.97,259.89 218.30,260.00 217.28,260.87 217.60,262.18 216.45,261.48 215.30,262.18 215.62,260.87 214.60,260.00 215.93,259.89" fill="#151515"/>
<path d="M208.20,280.30V277.00Q208.20,276.50 208.70,276.50H220.90Q221.40,276.50 221.40,277.00V280.30" stroke="#111" stroke-width="1.7" fill="none"/>
<polygon points="215.60,270.75 216.12,271.99 217.45,272.10 216.43,272.97 216.75,274.28 215.60,273.58 214.45,274.28 214.77,272.97 213.75,272.10 215.08,271.99" fill="#151515"/>
<line x1="52.0" y1="418.0" x2="132.0" y2="418.0" stroke="#111" stroke-width="2.4"/>
<text x="92.00" y="429.80" font-size="11.5" text-anchor="middle" fill="#1e1e1e">Two Week</text>
<line x1="145.8" y1="418.0" x2="225.8" y2="418.0" stroke="#111" stroke-width="2.4"/>
<text x="185.80" y="429.80" font-size="11.5" text-anchor="middle" fill="#1e1e1e">Six Week</text>
<rect x="225.4" y="248.20000000000002" width="11.7" height="6.7" fill="#b8b8b8" stroke="#111" stroke-width="1.8"/>
<rect x="225.4" y="260.5" width="11.7" height="6.7" fill="url(#chk)" stroke="#111" stroke-width="1.8"/>
<text x="243.0" y="254.3" font-size="8.6" fill="#1e1e1e">WT</text>
<text x="243.0" y="266.6" font-size="8.6" fill="#1e1e1e">th3/+</text>
<text x="266.8" y="240.9" font-size="18" font-weight="bold" fill="#000">D</text>
<line x1="313.8" y1="354.20" x2="317.0" y2="354.20" stroke="#111" stroke-width="1.8"/>
<text x="312.00" y="357.90" font-size="11.4" text-anchor="end" fill="#1e1e1e">0</text>
<line x1="313.8" y1="327.95" x2="317.0" y2="327.95" stroke="#111" stroke-width="1.8"/>
<text x="312.00" y="331.65" font-size="11.4" text-anchor="end" fill="#1e1e1e">50</text>
<line x1="313.8" y1="301.70" x2="317.0" y2="301.70" stroke="#111" stroke-width="1.8"/>
<text x="312.00" y="305.40" font-size="11.4" text-anchor="end" fill="#1e1e1e">100</text>
<line x1="313.8" y1="275.45" x2="317.0" y2="275.45" stroke="#111" stroke-width="1.8"/>
<text x="312.00" y="279.15" font-size="11.4" text-anchor="end" fill="#1e1e1e">150</text>
<line x1="313.8" y1="249.20" x2="317.0" y2="249.20" stroke="#111" stroke-width="1.8"/>
<text x="312.00" y="252.90" font-size="11.4" text-anchor="end" fill="#1e1e1e">200</text>
<text transform="translate(289.4,299.8) rotate(-90)" font-size="11.2" text-anchor="middle" fill="#1e1e1e">Serum Iron (ug/dl)</text>
<rect x="318.65" y="273.41" width="8.10" height="80.79" fill="#b8b8b8" stroke="#111" stroke-width="1.9"/>
<rect x="330.77" y="271.67" width="8.10" height="82.53" fill="#b8b8b8" stroke="#111" stroke-width="1.9"/>
<rect x="342.89" y="298.97" width="8.10" height="55.23" fill="#b8b8b8" stroke="#111" stroke-width="1.9"/>
<rect x="355.01" y="270.62" width="8.10" height="83.58" fill="url(#chk)" stroke="#111" stroke-width="1.9"/>
<rect x="367.13" y="258.86" width="8.10" height="95.34" fill="url(#chk)" stroke="#111" stroke-width="1.9"/>
<rect x="379.25" y="300.08" width="8.10" height="54.12" fill="url(#chk)" stroke="#111" stroke-width="1.9"/>
<rect x="403.49" y="265.69" width="8.10" height="88.51" fill="#b8b8b8" stroke="#111" stroke-width="1.9"/>
<rect x="415.61" y="270.62" width="8.10" height="83.58" fill="#b8b8b8" stroke="#111" stroke-width="1.9"/>
<rect x="427.73" y="297.98" width="8.10" height="56.22" fill="#b8b8b8" stroke="#111" stroke-width="1.9"/>
<rect x="439.85" y="265.69" width="8.10" height="88.51" fill="url(#chk)" stroke="#111" stroke-width="1.9"/>
<rect x="451.97" y="265.69" width="8.10" height="88.51" fill="url(#chk)" stroke="#111" stroke-width="1.9"/>
<rect x="464.09" y="290.84" width="8.10" height="63.36" fill="url(#chk)" stroke="#111" stroke-width="1.9"/>
<path d="M322.70,270.46V274.45M320.40,270.46H325.00M320.40,274.45H325.00" stroke="#111" stroke-width="1.3" fill="none"/>
<path d="M334.82,267.21V274.24M332.52,267.21H337.12M332.52,274.24H337.12" stroke="#111" stroke-width="1.3" fill="none"/>
<path d="M346.94,295.71V300.33M344.64,295.71H349.24M344.64,300.33H349.24" stroke="#111" stroke-width="1.3" fill="none"/>
<path d="M359.06,266.89V272.46M356.76,266.89H361.36M356.76,272.46H361.36" stroke="#111" stroke-width="1.3" fill="none"/>
<path d="M371.18,255.13V260.70M368.88,255.13H373.48M368.88,260.70H373.48" stroke="#111" stroke-width="1.3" fill="none"/>
<path d="M383.30,295.35V302.91M381.00,295.35H385.60M381.00,302.91H385.60" stroke="#111" stroke-width="1.3" fill="none"/>
<path d="M407.54,263.43V266.05M405.24,263.43H409.84M405.24,266.05H409.84" stroke="#111" stroke-width="1.3" fill="none"/>
<path d="M419.66,266.16V273.19M417.36,266.16H421.96M417.36,273.19H421.96" stroke="#111" stroke-width="1.3" fill="none"/>
<path d="M431.78,294.51V299.55M429.48,294.51H434.08M429.48,299.55H434.08" stroke="#111" stroke-width="1.3" fill="none"/>
<path d="M443.90,260.75V268.73M441.60,260.75H446.20M441.60,268.73H446.20" stroke="#111" stroke-width="1.3" fill="none"/>
<path d="M456.02,260.12V269.36M453.72,260.12H458.32M453.72,269.36H458.32" stroke="#111" stroke-width="1.3" fill="none"/>
<path d="M468.14,287.79V291.99M465.84,287.79H470.44M465.84,291.99H470.44" stroke="#111" stroke-width="1.3" fill="none"/>
<line x1="317.0" y1="354.2" x2="474.5" y2="354.2" stroke="#111" stroke-width="1.8"/>
<line x1="317.0" y1="355.09999999999997" x2="317.0" y2="249.2" stroke="#111" stroke-width="1.8"/>
<text transform="translate(324.40,368.60) rotate(-45)" font-size="10.3" text-anchor="end" fill="#1e1e1e">PBS</text>
<text transform="translate(336.50,368.60) rotate(-45)" font-size="10.3" text-anchor="end" fill="#1e1e1e">LNP-Luc</text>
<text transform="translate(348.60,368.60) rotate(-45)" font-size="10.3" text-anchor="end" fill="#1e1e1e">LNP-Tmprss6</text>
<text transform="translate(360.70,368.60) rotate(-45)" font-size="10.3" text-anchor="end" fill="#1e1e1e">PBS</text>
<text transform="translate(372.80,368.60) rotate(-45)" font-size="10.3" text-anchor="end" fill="#1e1e1e">LNP-Luc</text>
<text transform="translate(384.90,368.60) rotate(-45)" font-size="10.3" text-anchor="end" fill="#1e1e1e">LNP-Tmprss6</text>
<text transform="translate(409.10,368.60) rotate(-45)" font-size="10.3" text-anchor="end" fill="#1e1e1e">PBS</text>
<text transform="translate(421.20,368.60) rotate(-45)" font-size="10.3" text-anchor="end" fill="#1e1e1e">LNP-Luc</text>
<text transform="translate(433.30,368.60) rotate(-45)" font-size="10.3" text-anchor="end" fill="#1e1e1e">LNP-Tmprss6</text>
<text transform="translate(445.40,368.60) rotate(-45)" font-size="10.3" text-anchor="end" fill="#1e1e1e">PBS</text>
<text transform="translate(457.50,368.60) rotate(-45)" font-size="10.3" text-anchor="end" fill="#1e1e1e">LNP-Luc</text>
<text transform="translate(469.60,368.60) rotate(-45)" font-size="10.3" text-anchor="end" fill="#1e1e1e">LNP-Tmprss6</text>
<path d="M323.70,247.90V244.60Q323.70,244.10 324.20,244.10H348.10Q348.60,244.10 348.60,244.60V247.90" stroke="#111" stroke-width="1.7" fill="none"/>
<polygon points="329.90,237.65 330.42,238.89 331.75,239.00 330.73,239.87 331.05,241.18 329.90,240.48 328.75,241.18 329.07,239.87 328.05,239.00 329.38,238.89" fill="#151515"/>
<polygon points="334.60,237.65 335.12,238.89 336.45,239.00 335.43,239.87 335.75,241.18 334.60,240.48 333.45,241.18 333.77,239.87 332.75,239.00 334.08,238.89" fill="#151515"/>
<polygon points="339.30,237.65 339.82,238.89 341.15,239.00 340.13,239.87 340.45,241.18 339.30,240.48 338.15,241.18 338.47,239.87 337.45,239.00 338.78,238.89" fill="#151515"/>
<polygon points="344.00,237.65 344.52,238.89 345.85,239.00 344.83,239.87 345.15,241.18 344.00,240.48 342.85,241.18 343.17,239.87 342.15,239.00 343.48,238.89" fill="#151515"/>
<path d="M336.20,254.00V250.70Q336.20,250.20 336.70,250.20H348.10Q348.60,250.20 348.60,250.70V254.00" stroke="#111" stroke-width="1.7" fill="none"/>
<path d="M360.70,247.90V244.60Q360.70,244.10 361.20,244.10H385.80Q386.30,244.10 386.30,244.60V247.90" stroke="#111" stroke-width="1.7" fill="none"/>
<polygon points="367.25,237.65 367.77,238.89 369.10,239.00 368.08,239.87 368.40,241.18 367.25,240.48 366.10,241.18 366.42,239.87 365.40,239.00 366.73,238.89" fill="#151515"/>
<polygon points="371.95,237.65 372.47,238.89 373.80,239.00 372.78,239.87 373.10,241.18 371.95,240.48 370.80,241.18 371.12,239.87 370.10,239.00 371.43,238.89" fill="#151515"/>
<polygon points="376.65,237.65 377.17,238.89 378.50,239.00 377.48,239.87 377.80,241.18 376.65,240.48 375.50,241.18 375.82,239.87 374.80,239.00 376.13,238.89" fill="#151515"/>
<polygon points="381.35,237.65 381.87,238.89 383.20,239.00 382.18,239.87 382.50,241.18 381.35,240.48 380.20,241.18 380.52,239.87 379.50,239.00 380.83,238.89" fill="#151515"/>
<path d="M373.50,254.00V250.70Q373.50,250.20 374.00,250.20H385.80Q386.30,250.20 386.30,250.70V254.00" stroke="#111" stroke-width="1.7" fill="none"/>
<path d="M406.80,250.00V246.70Q406.80,246.20 407.30,246.20H431.50Q432.00,246.20 432.00,246.70V250.00" stroke="#111" stroke-width="1.7" fill="none"/>
<polygon points="413.15,239.85 413.67,241.09 415.00,241.20 413.98,242.07 414.30,243.38 413.15,242.68 412.00,243.38 412.32,242.07 411.30,241.20 412.63,241.09" fill="#151515"/>
<polygon points="417.85,239.85 418.37,241.09 419.70,241.20 418.68,242.07 419.00,243.38 417.85,242.68 416.70,243.38 417.02,242.07 416.00,241.20 417.33,241.09" fill="#151515"/>
<polygon points="422.55,239.85 423.07,241.09 424.40,241.20 423.38,242.07 423.70,243.38 422.55,242.68 421.40,243.38 421.72,242.07 420.70,241.20 422.03,241.09" fill="#151515"/>
<polygon points="427.25,239.85 427.77,241.09 429.10,241.20 428.08,242.07 428.40,243.38 427.25,242.68 426.10,243.38 426.42,242.07 425.40,241.20 426.73,241.09" fill="#151515"/>
<path d="M419.60,256.70V253.40Q419.60,252.90 420.10,252.90H431.50Q432.00,252.90 432.00,253.40V256.70" stroke="#111" stroke-width="1.7" fill="none"/>
<path d="M444.40,245.30V242.00Q444.40,241.50 444.90,241.50H469.20Q469.70,241.50 469.70,242.00V245.30" stroke="#111" stroke-width="1.7" fill="none"/>
<polygon points="453.15,235.55 453.67,236.79 455.00,236.90 453.98,237.77 454.30,239.08 453.15,238.38 452.00,239.08 452.32,237.77 451.30,236.90 452.63,236.79" fill="#151515"/>
<polygon points="457.85,235.55 458.37,236.79 459.70,236.90 458.68,237.77 459.00,239.08 457.85,238.38 456.70,239.08 457.02,237.77 456.00,236.90 457.33,236.79" fill="#151515"/>
<polygon points="462.55,235.55 463.07,236.79 464.40,236.90 463.38,237.77 463.70,239.08 462.55,238.38 461.40,239.08 461.72,237.77 460.70,236.90 462.03,236.79" fill="#151515"/>
<path d="M457.60,257.10V253.80Q457.60,253.30 458.10,253.30H469.20Q469.70,253.30 469.70,253.80V257.10" stroke="#111" stroke-width="1.7" fill="none"/>
<polygon points="462.10,247.25 462.62,248.49 463.95,248.60 462.93,249.47 463.25,250.78 462.10,250.08 460.95,250.78 461.27,249.47 460.25,248.60 461.58,248.49" fill="#151515"/>
<polygon points="466.80,247.25 467.32,248.49 468.65,248.60 467.63,249.47 467.95,250.78 466.80,250.08 465.65,250.78 465.97,249.47 464.95,248.60 466.28,248.49" fill="#151515"/>
<line x1="307.0" y1="418.8" x2="387.0" y2="418.8" stroke="#111" stroke-width="2.4"/>
<text x="347.00" y="430.60" font-size="11.5" text-anchor="middle" fill="#1e1e1e">Two Week</text>
<line x1="401.0" y1="418.8" x2="480.6" y2="418.8" stroke="#111" stroke-width="2.4"/>
<text x="440.80" y="430.60" font-size="11.5" text-anchor="middle" fill="#1e1e1e">Six Week</text>
<rect x="481.4" y="248.0" width="11.7" height="6.7" fill="#b8b8b8" stroke="#111" stroke-width="1.8"/>
<rect x="481.4" y="260.29999999999995" width="11.7" height="6.7" fill="url(#chk)" stroke="#111" stroke-width="1.8"/>
<text x="499.0" y="254.1" font-size="8.6" fill="#1e1e1e">WT</text>
<text x="499.0" y="266.4" font-size="8.6" fill="#1e1e1e">th3/+</text>
<text x="4.6" y="452.4" font-size="18" font-weight="bold" fill="#000">E</text>
<line x1="63.7" y1="568.70" x2="66.9" y2="568.70" stroke="#111" stroke-width="1.8"/>
<text x="61.90" y="572.40" font-size="11.4" text-anchor="end" fill="#1e1e1e">0</text>
<line x1="63.7" y1="547.62" x2="66.9" y2="547.62" stroke="#111" stroke-width="1.8"/>
<text x="61.90" y="551.32" font-size="11.4" text-anchor="end" fill="#1e1e1e">50</text>
<line x1="63.7" y1="526.54" x2="66.9" y2="526.54" stroke="#111" stroke-width="1.8"/>
<text x="61.90" y="530.24" font-size="11.4" text-anchor="end" fill="#1e1e1e">100</text>
<line x1="63.7" y1="505.46" x2="66.9" y2="505.46" stroke="#111" stroke-width="1.8"/>
<text x="61.90" y="509.16" font-size="11.4" text-anchor="end" fill="#1e1e1e">150</text>
<line x1="63.7" y1="484.38" x2="66.9" y2="484.38" stroke="#111" stroke-width="1.8"/>
<text x="61.90" y="488.08" font-size="11.4" text-anchor="end" fill="#1e1e1e">200</text>
<line x1="63.7" y1="463.30" x2="66.9" y2="463.30" stroke="#111" stroke-width="1.8"/>
<text x="61.90" y="467.00" font-size="11.4" text-anchor="end" fill="#1e1e1e">250</text>
<text transform="translate(26.5,514.0) rotate(-90)" font-size="11.3" text-anchor="middle" fill="#1e1e1e">non-Heme Liver Iron</text>
<text transform="translate(39.4,512.4) rotate(-90)" font-size="11.4" text-anchor="middle" fill="#1e1e1e">(ug/g wet weight)</text>
<rect x="69.25" y="552.15" width="8.10" height="16.55" fill="#b8b8b8" stroke="#111" stroke-width="1.9"/>
<rect x="81.35" y="552.66" width="8.10" height="16.04" fill="#b8b8b8" stroke="#111" stroke-width="1.9"/>
<rect x="93.45" y="553.92" width="8.10" height="14.78" fill="#b8b8b8" stroke="#111" stroke-width="1.9"/>
<rect x="105.55" y="491.86" width="8.10" height="76.84" fill="url(#chk)" stroke="#111" stroke-width="1.9"/>
<rect x="117.65" y="501.94" width="8.10" height="66.76" fill="url(#chk)" stroke="#111" stroke-width="1.9"/>
<rect x="129.75" y="508.05" width="8.10" height="60.65" fill="url(#chk)" stroke="#111" stroke-width="1.9"/>
<rect x="153.95" y="548.40" width="8.10" height="20.30" fill="#b8b8b8" stroke="#111" stroke-width="1.9"/>
<rect x="166.05" y="548.40" width="8.10" height="20.30" fill="#b8b8b8" stroke="#111" stroke-width="1.9"/>
<rect x="178.15" y="558.31" width="8.10" height="10.39" fill="#b8b8b8" stroke="#111" stroke-width="1.9"/>
<rect x="190.25" y="482.17" width="8.10" height="86.53" fill="url(#chk)" stroke="#111" stroke-width="1.9"/>
<rect x="202.35" y="487.56" width="8.10" height="81.14" fill="url(#chk)" stroke="#111" stroke-width="1.9"/>
<rect x="214.45" y="515.35" width="8.10" height="53.35" fill="url(#chk)" stroke="#111" stroke-width="1.9"/>
<path d="M73.30,550.36V552.05M71.00,550.36H75.60M71.00,552.05H75.60" stroke="#111" stroke-width="1.3" fill="none"/>
<path d="M85.40,550.87V552.55M83.10,550.87H87.70M83.10,552.55H87.70" stroke="#111" stroke-width="1.3" fill="none"/>
<path d="M97.50,552.13V553.82M95.20,552.13H99.80M95.20,553.82H99.80" stroke="#111" stroke-width="1.3" fill="none"/>
<path d="M109.60,485.22V496.61M107.30,485.22H111.90M107.30,496.61H111.90" stroke="#111" stroke-width="1.3" fill="none"/>
<path d="M121.70,496.02V505.97M119.40,496.02H124.00M119.40,505.97H124.00" stroke="#111" stroke-width="1.3" fill="none"/>
<path d="M133.80,502.51V511.70M131.50,502.51H136.10M131.50,511.70H136.10" stroke="#111" stroke-width="1.3" fill="none"/>
<path d="M158.00,544.92V549.98M155.70,544.92H160.30M155.70,549.98H160.30" stroke="#111" stroke-width="1.3" fill="none"/>
<path d="M170.10,544.92V549.98M167.80,544.92H172.40M167.80,549.98H172.40" stroke="#111" stroke-width="1.3" fill="none"/>
<path d="M182.20,556.94V557.78M179.90,556.94H184.50M179.90,557.78H184.50" stroke="#111" stroke-width="1.3" fill="none"/>
<path d="M194.30,474.47V487.96M192.00,474.47H196.60M192.00,487.96H196.60" stroke="#111" stroke-width="1.3" fill="none"/>
<path d="M206.40,482.40V490.83M204.10,482.40H208.70M204.10,490.83H208.70" stroke="#111" stroke-width="1.3" fill="none"/>
<path d="M218.50,508.92V519.88M216.20,508.92H220.80M216.20,519.88H220.80" stroke="#111" stroke-width="1.3" fill="none"/>
<line x1="66.9" y1="568.7" x2="224.9" y2="568.7" stroke="#111" stroke-width="1.8"/>
<line x1="66.9" y1="569.6" x2="66.9" y2="463.3" stroke="#111" stroke-width="1.8"/>
<text transform="translate(74.00,583.60) rotate(-45)" font-size="10.3" text-anchor="end" fill="#1e1e1e">PBS</text>
<text transform="translate(86.15,583.60) rotate(-45)" font-size="10.3" text-anchor="end" fill="#1e1e1e">LNP-Luc</text>
<text transform="translate(98.30,583.60) rotate(-45)" font-size="10.3" text-anchor="end" fill="#1e1e1e">LNP-Tmprss6</text>
<text transform="translate(110.45,583.60) rotate(-45)" font-size="10.3" text-anchor="end" fill="#1e1e1e">PBS</text>
<text transform="translate(122.60,583.60) rotate(-45)" font-size="10.3" text-anchor="end" fill="#1e1e1e">LNP-Luc</text>
<text transform="translate(134.75,583.60) rotate(-45)" font-size="10.3" text-anchor="end" fill="#1e1e1e">LNP-Tmprss6</text>
<text transform="translate(159.05,583.60) rotate(-45)" font-size="10.3" text-anchor="end" fill="#1e1e1e">PBS</text>
<text transform="translate(171.20,583.60) rotate(-45)" font-size="10.3" text-anchor="end" fill="#1e1e1e">LNP-Luc</text>
<text transform="translate(183.35,583.60) rotate(-45)" font-size="10.3" text-anchor="end" fill="#1e1e1e">LNP-Tmprss6</text>
<text transform="translate(195.50,583.60) rotate(-45)" font-size="10.3" text-anchor="end" fill="#1e1e1e">PBS</text>
<text transform="translate(207.65,583.60) rotate(-45)" font-size="10.3" text-anchor="end" fill="#1e1e1e">LNP-Luc</text>
<text transform="translate(219.80,583.60) rotate(-45)" font-size="10.3" text-anchor="end" fill="#1e1e1e">LNP-Tmprss6</text>
<path d="M155.90,533.40V530.10Q155.90,529.60 156.40,529.60H181.10Q181.60,529.60 181.60,530.10V533.40" stroke="#111" stroke-width="1.7" fill="none"/>
<polygon points="169.55,523.65 170.07,524.89 171.40,525.00 170.38,525.87 170.70,527.18 169.55,526.48 168.40,527.18 168.72,525.87 167.70,525.00 169.03,524.89" fill="#151515"/>
<path d="M168.80,544.70V541.40Q168.80,540.90 169.30,540.90H181.10Q181.60,540.90 181.60,541.40V544.70" stroke="#111" stroke-width="1.7" fill="none"/>
<polygon points="171.30,535.05 171.82,536.29 173.15,536.40 172.13,537.27 172.45,538.58 171.30,537.88 170.15,538.58 170.47,537.27 169.45,536.40 170.78,536.29" fill="#151515"/>
<polygon points="176.00,535.05 176.52,536.29 177.85,536.40 176.83,537.27 177.15,538.58 176.00,537.88 174.85,538.58 175.17,537.27 174.15,536.40 175.48,536.29" fill="#151515"/>
<polygon points="180.70,535.05 181.22,536.29 182.55,536.40 181.53,537.27 181.85,538.58 180.70,537.88 179.55,538.58 179.87,537.27 178.85,536.40 180.18,536.29" fill="#151515"/>
<path d="M194.30,469.10V465.80Q194.30,465.30 194.80,465.30H219.70Q220.20,465.30 220.20,465.80V469.10" stroke="#111" stroke-width="1.7" fill="none"/>
<polygon points="203.35,459.25 203.87,460.49 205.20,460.60 204.18,461.47 204.50,462.78 203.35,462.08 202.20,462.78 202.52,461.47 201.50,460.60 202.83,460.49" fill="#151515"/>
<polygon points="208.05,459.25 208.57,460.49 209.90,460.60 208.88,461.47 209.20,462.78 208.05,462.08 206.90,462.78 207.22,461.47 206.20,460.60 207.53,460.49" fill="#151515"/>
<polygon points="212.75,459.25 213.27,460.49 214.60,460.60 213.58,461.47 213.90,462.78 212.75,462.08 211.60,462.78 211.92,461.47 210.90,460.60 212.23,460.49" fill="#151515"/>
<path d="M207.00,479.40V476.10Q207.00,475.60 207.50,475.60H219.70Q220.20,475.60 220.20,476.10V479.40" stroke="#111" stroke-width="1.7" fill="none"/>
<polygon points="212.05,469.45 212.57,470.69 213.90,470.80 212.88,471.67 213.20,472.98 212.05,472.28 210.90,472.98 211.22,471.67 210.20,470.80 211.53,470.69" fill="#151515"/>
<polygon points="216.75,469.45 217.27,470.69 218.60,470.80 217.58,471.67 217.90,472.98 216.75,472.28 215.60,472.98 215.92,471.67 214.90,470.80 216.23,470.69" fill="#151515"/>
<line x1="47.7" y1="634.0" x2="128.0" y2="634.0" stroke="#111" stroke-width="2.4"/>
<text x="87.85" y="645.80" font-size="11.5" text-anchor="middle" fill="#1e1e1e">Two Week</text>
<line x1="141.8" y1="634.0" x2="221.7" y2="634.0" stroke="#111" stroke-width="2.4"/>
<text x="181.75" y="645.80" font-size="11.5" text-anchor="middle" fill="#1e1e1e">Six Week</text>
<rect x="225.4" y="456.9" width="11.7" height="6.7" fill="#b8b8b8" stroke="#111" stroke-width="1.8"/>
<rect x="225.4" y="469.2" width="11.7" height="6.7" fill="url(#chk)" stroke="#111" stroke-width="1.8"/>
<text x="243.0" y="463.0" font-size="8.6" fill="#1e1e1e">WT</text>
<text x="243.0" y="475.3" font-size="8.6" fill="#1e1e1e">th3/+</text>
<text x="266.8" y="452.4" font-size="18" font-weight="bold" fill="#000">F</text>
<line x1="311.90000000000003" y1="568.50" x2="315.1" y2="568.50" stroke="#111" stroke-width="1.8"/>
<text x="310.10" y="572.20" font-size="11.4" text-anchor="end" fill="#1e1e1e">0</text>
<line x1="311.90000000000003" y1="547.46" x2="315.1" y2="547.46" stroke="#111" stroke-width="1.8"/>
<text x="310.10" y="551.16" font-size="11.4" text-anchor="end" fill="#1e1e1e">20</text>
<line x1="311.90000000000003" y1="526.42" x2="315.1" y2="526.42" stroke="#111" stroke-width="1.8"/>
<text x="310.10" y="530.12" font-size="11.4" text-anchor="end" fill="#1e1e1e">40</text>
<line x1="311.90000000000003" y1="505.38" x2="315.1" y2="505.38" stroke="#111" stroke-width="1.8"/>
<text x="310.10" y="509.08" font-size="11.4" text-anchor="end" fill="#1e1e1e">60</text>
<line x1="311.90000000000003" y1="484.34" x2="315.1" y2="484.34" stroke="#111" stroke-width="1.8"/>
<text x="310.10" y="488.04" font-size="11.4" text-anchor="end" fill="#1e1e1e">80</text>
<line x1="311.90000000000003" y1="463.30" x2="315.1" y2="463.30" stroke="#111" stroke-width="1.8"/>
<text x="310.10" y="467.00" font-size="11.4" text-anchor="end" fill="#1e1e1e">100</text>
<text transform="translate(289.2,512.75) rotate(-90)" font-size="11.25" text-anchor="middle" fill="#1e1e1e">Total Spleen Iron (g)</text>
<rect x="317.45" y="558.40" width="7.60" height="10.10" fill="#b8b8b8" stroke="#111" stroke-width="1.9"/>
<rect x="329.55" y="557.98" width="7.60" height="10.52" fill="#b8b8b8" stroke="#111" stroke-width="1.9"/>
<rect x="341.65" y="552.20" width="7.60" height="16.30" fill="#b8b8b8" stroke="#111" stroke-width="1.9"/>
<rect x="353.75" y="496.76" width="7.60" height="71.74" fill="url(#chk)" stroke="#111" stroke-width="1.9"/>
<rect x="365.85" y="496.76" width="7.60" height="71.74" fill="url(#chk)" stroke="#111" stroke-width="1.9"/>
<rect x="377.95" y="508.01" width="7.60" height="60.49" fill="url(#chk)" stroke="#111" stroke-width="1.9"/>
<rect x="402.15" y="536.00" width="7.60" height="32.50" fill="#b8b8b8" stroke="#111" stroke-width="1.9"/>
<rect x="414.25" y="538.00" width="7.60" height="30.50" fill="#b8b8b8" stroke="#111" stroke-width="1.9"/>
<rect x="426.35" y="527.69" width="7.60" height="40.81" fill="#b8b8b8" stroke="#111" stroke-width="1.9"/>
<rect x="438.45" y="485.29" width="7.60" height="83.21" fill="url(#chk)" stroke="#111" stroke-width="1.9"/>
<rect x="450.55" y="492.65" width="7.60" height="75.85" fill="url(#chk)" stroke="#111" stroke-width="1.9"/>
<rect x="462.65" y="503.49" width="7.60" height="65.01" fill="url(#chk)" stroke="#111" stroke-width="1.9"/>
<path d="M321.25,556.40V558.51M318.95,556.40H323.55M318.95,558.51H323.55" stroke="#111" stroke-width="1.3" fill="none"/>
<path d="M333.35,555.98V558.09M331.05,555.98H335.65M331.05,558.09H335.65" stroke="#111" stroke-width="1.3" fill="none"/>
<path d="M345.45,549.14V553.35M343.15,549.14H347.75M343.15,553.35H347.75" stroke="#111" stroke-width="1.3" fill="none"/>
<path d="M357.55,493.70V497.91M355.25,493.70H359.85M355.25,497.91H359.85" stroke="#111" stroke-width="1.3" fill="none"/>
<path d="M369.65,492.12V499.49M367.35,492.12H371.95M367.35,499.49H371.95" stroke="#111" stroke-width="1.3" fill="none"/>
<path d="M381.75,504.43V509.69M379.45,504.43H384.05M379.45,509.69H384.05" stroke="#111" stroke-width="1.3" fill="none"/>
<path d="M405.95,532.42V537.68M403.65,532.42H408.25M403.65,537.68H408.25" stroke="#111" stroke-width="1.3" fill="none"/>
<path d="M418.05,535.68V538.41M415.75,535.68H420.35M415.75,538.41H420.35" stroke="#111" stroke-width="1.3" fill="none"/>
<path d="M430.15,524.84V528.63M427.85,524.84H432.45M427.85,528.63H432.45" stroke="#111" stroke-width="1.3" fill="none"/>
<path d="M442.25,476.34V492.34M439.95,476.34H444.55M439.95,492.34H444.55" stroke="#111" stroke-width="1.3" fill="none"/>
<path d="M454.35,489.28V494.12M452.05,489.28H456.65M452.05,494.12H456.65" stroke="#111" stroke-width="1.3" fill="none"/>
<path d="M466.45,497.28V507.80M464.15,497.28H468.75M464.15,507.80H468.75" stroke="#111" stroke-width="1.3" fill="none"/>
<line x1="315.1" y1="568.5" x2="472.9" y2="568.5" stroke="#111" stroke-width="1.8"/>
<line x1="315.1" y1="569.4" x2="315.1" y2="463.3" stroke="#111" stroke-width="1.8"/>
<text transform="translate(322.90,583.10) rotate(-45)" font-size="10.3" text-anchor="end" fill="#1e1e1e">PBS</text>
<text transform="translate(334.98,583.10) rotate(-45)" font-size="10.3" text-anchor="end" fill="#1e1e1e">LNP-Luc</text>
<text transform="translate(347.06,583.10) rotate(-45)" font-size="10.3" text-anchor="end" fill="#1e1e1e">LNP-Tmprss6</text>
<text transform="translate(359.14,583.10) rotate(-45)" font-size="10.3" text-anchor="end" fill="#1e1e1e">PBS</text>
<text transform="translate(371.22,583.10) rotate(-45)" font-size="10.3" text-anchor="end" fill="#1e1e1e">LNP-Luc</text>
<text transform="translate(383.30,583.10) rotate(-45)" font-size="10.3" text-anchor="end" fill="#1e1e1e">LNP-Tmprss6</text>
<text transform="translate(407.46,583.10) rotate(-45)" font-size="10.3" text-anchor="end" fill="#1e1e1e">PBS</text>
<text transform="translate(419.54,583.10) rotate(-45)" font-size="10.3" text-anchor="end" fill="#1e1e1e">LNP-Luc</text>
<text transform="translate(431.62,583.10) rotate(-45)" font-size="10.3" text-anchor="end" fill="#1e1e1e">LNP-Tmprss6</text>
<text transform="translate(443.70,583.10) rotate(-45)" font-size="10.3" text-anchor="end" fill="#1e1e1e">PBS</text>
<text transform="translate(455.78,583.10) rotate(-45)" font-size="10.3" text-anchor="end" fill="#1e1e1e">LNP-Luc</text>
<text transform="translate(467.86,583.10) rotate(-45)" font-size="10.3" text-anchor="end" fill="#1e1e1e">LNP-Tmprss6</text>
<path d="M318.90,547.00V543.70Q318.90,543.20 319.40,543.20H343.80Q344.30,543.20 344.30,543.70V547.00" stroke="#111" stroke-width="1.7" fill="none"/>
<polygon points="332.40,536.85 332.92,538.09 334.25,538.20 333.23,539.07 333.55,540.38 332.40,539.68 331.25,540.38 331.57,539.07 330.55,538.20 331.88,538.09" fill="#151515"/>
<path d="M355.80,481.90V478.60Q355.80,478.10 356.30,478.10H380.40Q380.90,478.10 380.90,478.60V481.90" stroke="#111" stroke-width="1.7" fill="none"/>
<polygon points="366.80,471.95 367.32,473.19 368.65,473.30 367.63,474.17 367.95,475.48 366.80,474.78 365.65,475.48 365.97,474.17 364.95,473.30 366.28,473.19" fill="#151515"/>
<polygon points="371.50,471.95 372.02,473.19 373.35,473.30 372.33,474.17 372.65,475.48 371.50,474.78 370.35,475.48 370.67,474.17 369.65,473.30 370.98,473.19" fill="#151515"/>
<path d="M367.70,491.10V487.80Q367.70,487.30 368.20,487.30H379.50Q380.00,487.30 380.00,487.80V491.10" stroke="#111" stroke-width="1.7" fill="none"/>
<polygon points="374.65,481.45 375.17,482.69 376.50,482.80 375.48,483.67 375.80,484.98 374.65,484.28 373.50,484.98 373.82,483.67 372.80,482.80 374.13,482.69" fill="#151515"/>
<path d="M417.60,523.80V520.50Q417.60,520.00 418.10,520.00H429.80Q430.30,520.00 430.30,520.50V523.80" stroke="#111" stroke-width="1.7" fill="none"/>
<polygon points="420.05,513.35 420.57,514.59 421.90,514.70 420.88,515.57 421.20,516.88 420.05,516.18 418.90,516.88 419.22,515.57 418.20,514.70 419.53,514.59" fill="#151515"/>
<polygon points="424.75,513.35 425.27,514.59 426.60,514.70 425.58,515.57 425.90,516.88 424.75,516.18 423.60,516.88 423.92,515.57 422.90,514.70 424.23,514.59" fill="#151515"/>
<polygon points="429.45,513.35 429.97,514.59 431.30,514.70 430.28,515.57 430.60,516.88 429.45,516.18 428.30,516.88 428.62,515.57 427.60,514.70 428.93,514.59" fill="#151515"/>
<line x1="298.0" y1="633.9" x2="378.9" y2="633.9" stroke="#111" stroke-width="2.4"/>
<text x="338.45" y="645.70" font-size="11.5" text-anchor="middle" fill="#1e1e1e">Two Week</text>
<line x1="393.0" y1="633.9" x2="473.0" y2="633.9" stroke="#111" stroke-width="2.4"/>
<text x="433.00" y="645.70" font-size="11.5" text-anchor="middle" fill="#1e1e1e">Six Week</text>
<rect x="481.4" y="456.9" width="11.7" height="6.7" fill="#b8b8b8" stroke="#111" stroke-width="1.8"/>
<rect x="481.4" y="469.2" width="11.7" height="6.7" fill="url(#chk)" stroke="#111" stroke-width="1.8"/>
<text x="499.0" y="463.0" font-size="8.6" fill="#1e1e1e">WT</text>
<text x="499.0" y="475.3" font-size="8.6" fill="#1e1e1e">th3/+</text>
</svg>
</body></html>
